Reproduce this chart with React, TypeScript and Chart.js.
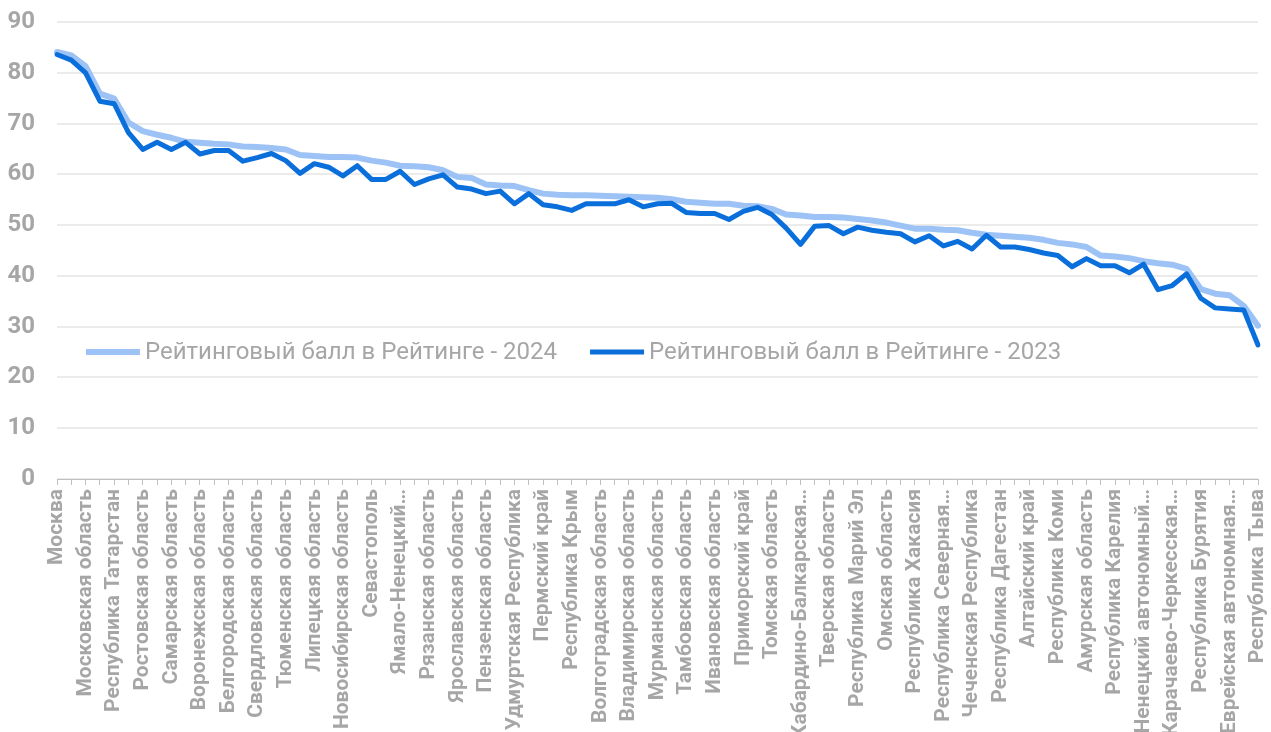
import React, { useEffect, useRef } from "react";
import { Chart, registerables } from "chart.js";

Chart.register(...registerables);

const regions: string[] = [
  "Москва", "Санкт-Петербург", "Московская область", "Нижегородская область",
  "Республика Татарстан", "Краснодарский край", "Ростовская область", "Ханты-Мансийский автономный округ — Югра",
  "Самарская область", "Калужская область", "Воронежская область", "Тульская область",
  "Белгородская область", "Челябинская область", "Свердловская область", "Ленинградская область",
  "Тюменская область", "Кемеровская область", "Липецкая область", "Республика Башкортостан",
  "Новосибирская область", "Красноярский край", "Севастополь", "Калининградская область",
  "Ямало-Ненецкий автономный округ", "Оренбургская область", "Рязанская область", "Курская область",
  "Ярославская область", "Ульяновская область", "Пензенская область", "Чувашская Республика",
  "Удмуртская Республика", "Иркутская область", "Пермский край", "Саратовская область",
  "Республика Крым", "Ставропольский край", "Волгоградская область", "Хабаровский край",
  "Владимирская область", "Астраханская область", "Мурманская область", "Кировская область",
  "Тамбовская область", "Орловская область", "Ивановская область", "Смоленская область",
  "Приморский край", "Вологодская область", "Томская область", "Новгородская область",
  "Кабардино-Балкарская Республика", "Брянская область", "Тверская область", "Архангельская область",
  "Республика Марий Эл", "Республика Мордовия", "Омская область", "Сахалинская область",
  "Республика Хакасия", "Костромская область", "Республика Северная Осетия — Алания", "Республика Адыгея",
  "Чеченская Республика", "Магаданская область", "Республика Дагестан", "Псковская область",
  "Алтайский край", "Курганская область", "Республика Коми", "Республика Саха (Якутия)",
  "Амурская область", "Камчатский край", "Республика Карелия", "Республика Калмыкия",
  "Ненецкий автономный округ", "Республика Ингушетия", "Карачаево-Черкесская Республика", "Забайкальский край",
  "Республика Бурятия", "Чукотский автономный округ", "Еврейская автономная область", "Республика Алтай",
  "Республика Тыва",
];

const score2024: number[] = [
  84.1, 83.4, 81.3, 75.9, 74.9, 70.2, 68.5, 67.8, 67.2, 66.4,
  66.2, 66.0, 65.9, 65.5, 65.4, 65.2, 64.9, 63.8, 63.6, 63.4,
  63.4, 63.3, 62.7, 62.3, 61.7, 61.6, 61.4, 60.8, 59.5, 59.3,
  58.0, 57.8, 57.7, 56.9, 56.2, 56.0, 55.9, 55.9, 55.8, 55.7,
  55.6, 55.5, 55.4, 55.1, 54.6, 54.4, 54.2, 54.2, 53.8, 53.7,
  53.2, 52.1, 51.9, 51.6, 51.6, 51.5, 51.2, 50.9, 50.5, 49.9,
  49.3, 49.3, 49.1, 49.0, 48.5, 48.1, 47.9, 47.7, 47.5, 47.1,
  46.5, 46.2, 45.7, 44.0, 43.8, 43.5, 42.9, 42.5, 42.2, 41.4,
  37.4, 36.5, 36.2, 34.1, 30.2,
];

const score2023: number[] = [
  83.6, 82.5, 80.0, 74.4, 73.9, 68.2, 64.9, 66.3, 64.9, 66.3,
  64.0, 64.7, 64.7, 62.6, 63.3, 64.1, 62.7, 60.2, 62.1, 61.4,
  59.7, 61.7, 59.0, 59.0, 60.6, 58.0, 59.1, 59.9, 57.5, 57.1,
  56.2, 56.7, 54.2, 56.2, 54.0, 53.6, 52.9, 54.2, 54.2, 54.2,
  55.0, 53.6, 54.2, 54.3, 52.5, 52.3, 52.3, 51.1, 52.7, 53.5,
  52.1, 49.4, 46.2, 49.8, 49.9, 48.3, 49.6, 49.0, 48.6, 48.3,
  46.7, 47.9, 45.9, 46.8, 45.3, 48.0, 45.7, 45.7, 45.2, 44.5,
  44.0, 41.8, 43.4, 42.0, 42.0, 40.6, 42.3, 37.3, 38.1, 40.4,
  35.6, 33.7, 33.5, 33.3, 26.4,
];

const seriesLabels: string[] = [
  "Рейтинговый балл в Рейтинге - 2024",
  "Рейтинговый балл в Рейтинге - 2023",
];

const yMin = 0;
const yMax = 90;
const yStep = 10;

const GRAY = "#a6a6a6";
const LIGHT = "#9dc3f6";
const DARK = "#0a6fdb";

function shortLabel(label: string): string {
  const words = label.split(" ");
  let out = "";
  for (const w of words) {
    const next = out ? out + " " + w : w;
    if (next.length > 21) return (out || w) + "…";
    out = next;
  }
  return out;
}

const inlineLegend = {
  id: "inlineLegend",
  afterDraw(chart: any) {
    const { ctx, chartArea } = chart;
    const y = chart.scales.y.getPixelForValue(25);
    ctx.save();
    ctx.font = "400 24px Roboto";
    ctx.textBaseline = "middle";
    ctx.textAlign = "left";
    let x = chartArea.left + 29;
    chart.data.datasets.forEach((ds: any) => {
      ctx.strokeStyle = ds.borderColor;
      ctx.lineWidth = ds.borderWidth;
      ctx.lineCap = "butt";
      ctx.beginPath();
      ctx.moveTo(x, y);
      ctx.lineTo(x + 54, y);
      ctx.stroke();
      ctx.fillStyle = GRAY;
      ctx.fillText(ds.label, x + 59, y + 1);
      x += 59 + ctx.measureText(ds.label).width + 33;
    });
    ctx.restore();
  },
};

export default function App() {
  const canvasRef = useRef<HTMLCanvasElement | null>(null);

  useEffect(() => {
    document.body.style.margin = "0";
    const canvas = canvasRef.current;
    if (!canvas) return;
    const chart = new Chart(canvas, {
      type: "line",
      data: {
        labels: regions,
        datasets: [
          {
            label: seriesLabels[0],
            data: score2024,
            borderColor: LIGHT,
            backgroundColor: LIGHT,
            borderWidth: 6,
            pointRadius: 0,
            tension: 0,
            borderJoinStyle: "round",
            borderCapStyle: "round",
            order: 2,
          },
          {
            label: seriesLabels[1],
            data: score2023,
            borderColor: DARK,
            backgroundColor: DARK,
            borderWidth: 5,
            pointRadius: 0,
            tension: 0,
            borderJoinStyle: "round",
            borderCapStyle: "round",
            order: 1,
          },
        ],
      },
      options: {
        animation: false,
        responsive: true,
        maintainAspectRatio: false,
        layout: { padding: { left: 0, right: 13, top: 22, bottom: 0 } },
        plugins: {
          legend: { display: false },
          tooltip: { enabled: false },
        },
        scales: {
          x: {
            offset: false,
            border: { display: true, color: "#bfbfbf", width: 1 },
            grid: {
              display: true,
              drawOnChartArea: false,
              drawTicks: true,
              tickLength: 6,
              color: "#bfbfbf",
            },
            ticks: {
              autoSkip: false,
              maxRotation: 90,
              minRotation: 90,
              padding: 4,
              color: GRAY,
              font: { family: "Roboto", size: 21, weight: "bold" },
              callback: (_v: any, i: number) => (i % 2 === 0 ? shortLabel(regions[i]) : ""),
            },
            afterFit: (scale: any) => {
              scale.height = 253;
              scale.paddingLeft = 0;
              scale.paddingRight = 0;
            },
          },
          y: {
            min: yMin,
            max: yMax,
            border: { display: false },
            grid: { color: "#ebebeb", lineWidth: 2, drawTicks: false },
            ticks: {
              stepSize: yStep,
              padding: 22,
              color: GRAY,
              font: { family: "Roboto", size: 24, weight: "bold" },
            },
            afterFit: (scale: any) => {
              scale.width = 57;
              scale.paddingTop = 0;
              scale.paddingBottom = 0;
            },
          },
        },
      },
      plugins: [inlineLegend],
    });
    return () => chart.destroy();
  }, []);

  return (
    <div style={{ position: "relative", width: 1271, height: 732, background: "#fff" }}>
      <canvas ref={canvasRef} />
    </div>
  );
}
